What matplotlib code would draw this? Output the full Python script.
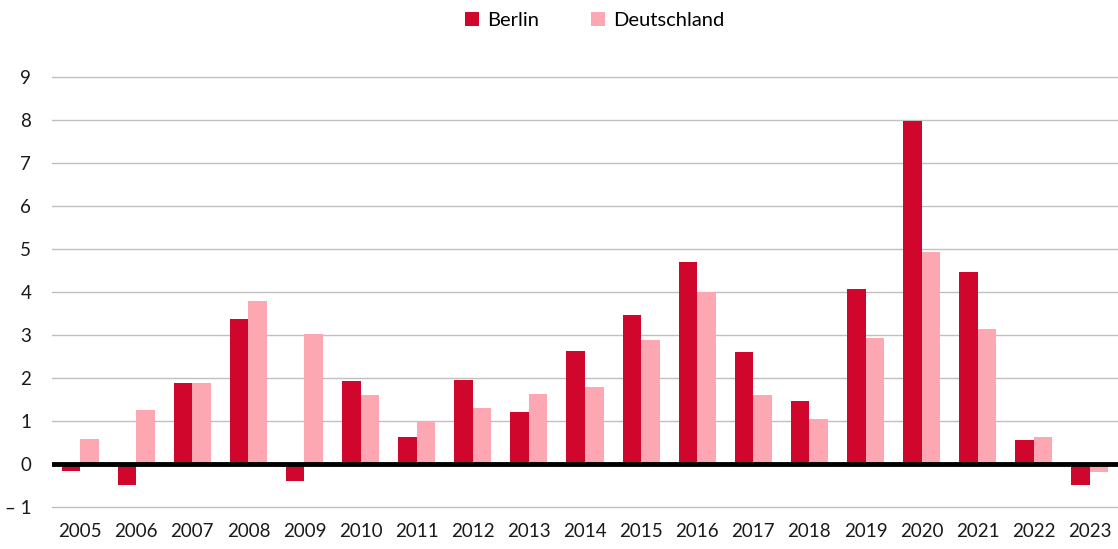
import numpy as np
import matplotlib.pyplot as plt

plt.rcParams['font.family'] = ['Lato', 'DejaVu Sans']

years = [str(y) for y in range(2005, 2024)]
berlin = [-0.17, -0.5, 1.88, 3.37, -0.4, 1.93, 0.63, 1.95, 1.21, 2.63,
          3.47, 4.7, 2.6, 1.47, 4.07, 7.98, 4.47, 0.56, -0.5]
deutschland = [0.58, 1.25, 1.88, 3.8, 3.02, 1.6, 1.0, 1.3, 1.63, 1.79,
               2.88, 4.0, 1.6, 1.05, 2.93, 4.93, 3.14, 0.63, -0.18]
yticks = list(range(-1, 10))
ytick_labels = ['– 1'] + [str(v) for v in range(0, 10)]

fig = plt.figure(figsize=(11.18, 5.49), dpi=100)
ax = fig.add_axes([52 / 1118, 40 / 549, 1066 / 1118, 433 / 549])

x = np.arange(len(years))
w = 0.33
ax.bar(x - w / 2, berlin, w, color='#d0062c', label='Berlin', zorder=3)
ax.bar(x + w / 2, deutschland, w, color='#fda7b3', label='Deutschland', zorder=3)

ax.set_xlim(-0.5, len(years) - 0.5)
ax.set_ylim(-1.05, 9.03)
ax.set_yticks(yticks)
ax.set_yticklabels(ytick_labels)
ax.set_xticks(x)
ax.set_xticklabels(years)
ax.grid(axis='y', color='#c0c0c0', linewidth=1, zorder=0)
ax.axhline(0, color='black', linewidth=3.5, zorder=4)
for s in ax.spines.values():
    s.set_visible(False)
ax.tick_params(length=0, labelsize=13.5, colors='#1a1a1a')
ax.tick_params(axis='y', pad=15)
ax.tick_params(axis='x', pad=10)

ax.legend(loc='upper center', bbox_to_anchor=(0.509, 1.19), ncol=2, frameon=False,
          fontsize=14.5, handlelength=0.7, handleheight=0.7, columnspacing=2.6,
          handletextpad=0.4)

fig.savefig('out.png', dpi=100)
